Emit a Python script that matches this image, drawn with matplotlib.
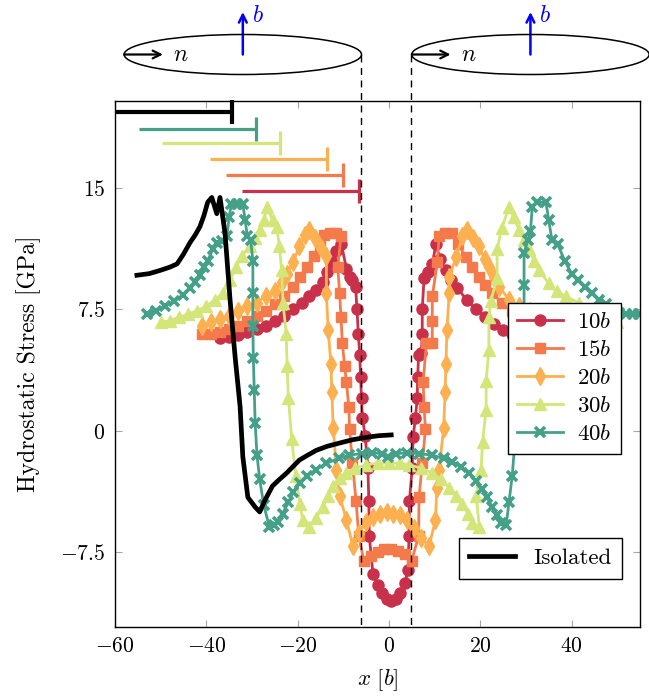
import matplotlib
matplotlib.use("Agg")
import matplotlib.pyplot as plt
from matplotlib.patches import Ellipse
from matplotlib.lines import Line2D
import matplotlib.transforms as mtransforms

plt.rcParams['mathtext.fontset'] = 'cm'
plt.rcParams['font.family'] = ['cmr10', 'DejaVu Serif']
plt.rcParams['axes.formatter.use_mathtext'] = True

# ---------------- data ----------------
labels = ['$10b$', '$15b$', '$20b$', '$30b$', '$40b$']
colors = ['#c9304a', '#f47a4b', '#fdb04f', '#d4e57a', '#45a08a']
markers = ['o', 's', 'd', '^', 'x']

x10 = [-37, -35, -33, -31, -29, -27, -25, -23, -21, -19, -17.5, -16, -14.5, -13.5, -12.5,
       -11.5, -10.4, -9.3, -8.6, -8.0, -7.3, -7.0, -6.7, -6.4, -6.2, -6.0, -5.8, -5.2, -4.6,
       -4.4, -4.3, -3.5, -2.5, -1.5, -0.5, 0.5, 1.5, 2.5, 3.5, 4.2, 4.4, 4.5, 5.1, 5.3, 5.8,
       6.2, 6.3, 6.5, 7.1, 7.3, 7.3, 7.7, 8.5, 9.5, 10.3, 11.2, 12.5, 13.5, 15, 17, 19, 21,
       23, 25, 27, 29, 31, 33, 35]
y10 = [5.7, 5.8, 5.9, 6.1, 6.3, 6.5, 6.8, 7.1, 7.5, 7.9, 8.3, 8.7, 9.2, 9.8, 10.4,
       11.1, 11.5, 10.0, 9.5, 9.3, 8.9, 7.5, 6.0, 4.7, 3.3, 2.0, 0.8, -0.3, -2.3,
       -4.3, -6.5, -8.8, -9.5, -10.0, -10.4, -10.5, -10.4, -10.0, -9.4, -8.6, -6.5, -4.3, -2.3, -0.4, 0.8,
       2.0, 3.3, 4.7, 4.8, 6.0, 7.5, 9.4, 9.8, 10.3, 11.5, 10.6, 9.9, 9.3, 8.8, 8.1, 7.5, 7.0,
       6.6, 6.2, 6.0, 5.9, 5.8, 5.7, 5.7]

x15 = [-41, -39, -37, -35, -33, -31, -29, -27, -25, -23, -21, -19.5, -18, -16.5, -15.2,
       -14.3, -13, -11.5, -10.5, -11.2, -10.8, -10.5, -10.2, -9.7, -9.3, -8.8, -8.6, -8.0,
       -7.2, -6.6, -5.5, -4, -2.5, -1, 0.5, 2, 3.5, 5.0, 6.5, 6.6, 7.3, 8.0, 7.7, 7.5, 8.2,
       9.5, 9.5, 9.5, 10.6, 11, 12.2, 13.9, 15.2, 16.9, 18.3, 19.7, 21.1, 22.6, 24.8, 27,
       29, 31, 33, 35, 37, 39]
y15 = [6.0, 6.0, 6.1, 6.3, 6.5, 6.8, 7.1, 7.4, 7.8, 8.3, 8.9, 9.5, 10.1, 10.8, 11.5,
       12.1, 12.2, 12.2, 12.0, 10.1, 8.5, 7.0, 5.4, 4.0, 3.0, 1.5, 0.1, -2.0,
       -4.3, -6.5, -8.0, -7.7, -7.5, -7.3, -7.3, -7.4, -7.6, -8.0, -6.5, -4.1, -2.0, 0.1, 1.5, 3.0, 5.4,
       5.4, 6.8, 8.3, 10.4, 12.0, 12.2, 12.2, 11.5, 10.7, 10.1, 9.5, 9.0, 8.5, 7.9, 7.4,
       7.0, 6.7, 6.4, 6.2, 6.1, 6.0]

x20 = [-41, -39, -37, -35, -33, -31, -29, -27, -25, -23.5, -22.4, -21, -19.6, -18.3, -17.4,
       -16.2, -14.8, -13.7, -13.7, -13.3, -12.7, -12.5, -12.2, -11.5, -10.8, -9.3, -7.9,
       -6.5, -5, -3.5, -2, -0.5, 1, 2.5, 4, 5.5, 7, 8.8, 10.2, 10.5, 11.0, 12.0, 12.3, 12.5,
       12.7, 13.2, 13.2, 14.7, 16.1, 17.2, 18.5, 19.7, 21, 21.9, 23, 24.1, 26.3, 28.5, 31,
       33, 35, 37, 39, 41]
y20 = [6.5, 6.7, 6.9, 7.1, 7.4, 7.7, 7.9, 8.3, 8.6, 9.2, 9.7, 10.4, 11.4, 12.1, 12.4,
       11.9, 11.3, 10.8, 8.5, 6.2, 4.1, 2.4, 0.2, -2.4, -4.0, -5.5, -7.1,
       -6.3, -5.6, -5.3, -5.1, -5.0, -5.1, -5.2, -5.5, -6.0, -6.6, -7.1, -5.5, -3.5, -2.4, 0.2, 2.4, 4.1,
       6.2, 8.5, 9.5, 10.7, 12.0, 12.4, 11.9, 11.4, 10.6, 10.1, 9.5, 8.9, 8.1, 7.7, 7.4,
       7.1, 6.9, 6.7, 6.5, 6.4]

x30 = [-50, -48, -46, -44, -42, -40, -38, -36.3, -34.8, -33.5, -32.2, -30.5, -29.3, -28.3,
       -27.4, -26.6, -25.5, -24.6, -24.0, -23.5, -23.2, -22.5, -22.3, -22.0, -21.3, -20.4,
       -19.5, -18.9, -17.4, -16, -14.5, -13.3, -12.3, -10.8, -9.3, -7.5, -5, -2.5, 0, 2.5,
       4.5, 7, 9.5, 11.5, 13.2, 14.7, 16.1, 17.3, 18.3, 19.8, 19.1, 20.2, 20.5, 21.3, 21.3,
       21.9, 21.9, 22.3, 23.7, 23.7, 24.7, 26.3, 27.3, 28.5, 29.6, 30.7, 31.8, 32.9, 35,
       36.8, 38.7, 41.6, 44, 46, 48, 50]
y30 = [6.7, 6.8, 7.0, 7.2, 7.4, 7.7, 8.1, 8.5, 9.3, 10.1, 10.8, 11.4, 11.9, 12.4,
       13.0, 13.8, 13.0, 12.6, 11.4, 9.9, 7.9, 6.0, 4.0, 2.0, -0.5, -2.8,
       -4.5, -5.5, -5.9, -5.4, -4.7, -4.0, -3.4, -2.9, -2.6, -2.3, -2.1, -2.0, -2.0, -2.0,
       -2.1, -2.3, -2.6, -3.0, -3.5, -4.0, -4.5, -5.1, -5.7, -5.9, -4.0, -2.4, -0.7, 1.3, 3.1,
       5.0, 7.0, 8.0, 9.4, 11.2, 12.5, 13.8, 13.2, 12.4, 11.8, 11.2, 10.5, 9.9, 9.1,
       8.6, 8.3, 7.9, 7.4, 7.1, 6.9, 6.7]

x40 = [-53, -51, -49, -47, -45, -43.6, -42.4, -41.4, -40.5, -39.7, -38.6, -37.7, -36.5,
       -35.5, -35, -34.5, -33.3, -32, -31.5, -31.0, -30.3, -29.8, -29.8, -29.8, -29.7, -29.5,
       -29.3, -28.9, -28.3, -27.4, -26.2, -25.2, -24.3, -23.3, -22, -21, -19.5, -18, -16,
       -13.7, -11, -8.7, -6, -3.6, -1.5, -0.3, 1.5, 4, 6.5, 9.5, 12, 13.8, 15.8, 17.5, 19,
       20.4, 21.5, 22.6, 23.6, 24.6, 25.7, 26.3, 27.0, 27.5, 28.0, 28.5, 29.2, 29.6, 29.6,
       29.6, 30.5, 31.0, 31.4, 32.5, 34.4, 35.0, 35.7, 37, 38.5, 40, 41.5, 43, 44.5, 46,
       47.5, 48.8, 50.5, 52, 53.5, 54.7]
y40 = [7.2, 7.4, 7.7, 8.0, 8.4, 8.8, 9.2, 9.6, 10.1, 10.5, 11.2, 11.6, 11.7,
       12.0, 13.2, 14.0, 14.0, 14.0, 13.0, 12.0, 11.8, 10.5, 8.5, 6.5, 4.5, 2.5,
       0.5, -1.5, -3.0, -4.6, -5.9, -5.8, -5.6, -5.1, -4.4, -3.8, -3.2, -2.8, -2.4,
       -2.0, -1.7, -1.5, -1.4, -1.36, -1.4, -1.6, -1.4, -1.36, -1.4, -1.5, -1.7, -1.9, -2.2, -2.6, -3.1,
       -3.6, -4.1, -4.7, -5.2, -5.7, -5.8, -4.4, -2.8, -1.0, 1.0, 3.0, 5.0, 7.0, 9.0,
       11.0, 11.8, 12.3, 13.8, 14.1, 14.1, 13.0, 11.8, 11.5, 10.5, 9.7, 9.3, 8.9, 8.5, 8.1,
       7.8, 7.5, 7.3, 7.2, 7.2, 7.2]

x_iso = [-55.2, -52.5, -50.1, -48, -46.4, -45, -43.6, -42.4, -41.4, -40.5, -39.7, -38.8,
         -37.7, -37.0, -35.9, -34.8, -33.7, -32.6, -32.0, -30.9, -30.5, -29.3, -28.3,
         -27.2, -25.5, -24, -22.4, -21, -19.6, -17.8, -15.9, -13.5, -10.8, -8, -5, -2.3, 0.5]
y_iso = [9.6, 9.7, 9.9, 10.1, 10.3, 10.9, 11.6, 12.1, 12.6, 13.3, 14.1, 14.4,
         13.4, 14.4, 12.2, 8.1, 4.6, 1.5, -1.6, -4.1, -4.25, -4.7, -5.0,
         -4.3, -3.4, -3.0, -2.6, -2.2, -1.8, -1.5, -1.2, -0.95, -0.75, -0.55, -0.4, -0.3, -0.25]

# loop extent bars (top-left), order: isolated, 40b, 30b, 20b, 15b, 10b
bar_colors = ['black', '#45a08a', '#d4e57a', '#fdb04f', '#f47a4b', '#c9304a']
bar_start = [-60, -54.7, -49.6, -39.2, -35.7, -32.2]
bar_end = [-34.3, -29.2, -23.9, -13.6, -10.1, -6.6]
bar_y = [19.7, 18.6, 17.75, 16.8, 15.8, 14.8]

loop_edges = [-6.1, 4.9]
ellipse_centers = [-32, 31]
ellipse_width = 52

xticks = [-60, -40, -20, 0, 20, 40]
yticks = [-7.5, 0, 7.5, 15]

# ---------------- figure ----------------
W, H = 649, 698
fig = plt.figure(figsize=(W / 100, H / 100), dpi=100)
ax = fig.add_axes([115 / W, 1 - 627 / H, 525 / W, 526 / H])
ax.set_xlim(-60, 55)
ax.set_ylim(-12.1, 20.35)

series = [(x10, y10), (x15, y15), (x20, y20), (x30, y30), (x40, y40)]
msizes = [8, 7.5, 9, 8.5, 6.5]
handles = []
for (xs, ys), c, m, lab, ms in zip(series, colors, markers, labels, msizes):
    if m == 'x':
        ln, = ax.plot(xs, ys, color=c, lw=2.0, marker=m, ms=ms, mew=2.6, label=lab)
    else:
        ln, = ax.plot(xs, ys, color=c, lw=2.0, marker=m, ms=ms, mec=c, mfc=c, label=lab)
    handles.append(ln)

iso, = ax.plot(x_iso, y_iso, color='black', lw=3.4, label='Isolated', solid_joinstyle='round')

# loop bars
for c, xs, xe, yb in zip(bar_colors, bar_start, bar_end, bar_y):
    lw = 3.0 if c == 'black' else 2.3
    ax.plot([xs, xe], [yb, yb], color=c, lw=lw, solid_capstyle='butt', clip_on=False)
    ax.plot([xe, xe], [yb - 0.74, yb + 0.74], color=c, lw=lw, solid_capstyle='butt', clip_on=False)

# ticks
ax.set_xticks(xticks)
ax.set_xticklabels([r'$%g$' % v if v >= 0 else r'$-%g$' % (-v) for v in xticks])
ax.set_yticks(yticks)
ax.set_yticklabels([r'$%g$' % v if v >= 0 else r'$-%g$' % (-v) for v in yticks])
ax.tick_params(direction='in', length=5, width=0.8, color='0.65', top=True, right=True,
               labelsize=15.5, pad=7)
for s in ax.spines.values():
    s.set_linewidth(1.0)

ax.set_xlabel(r'$x\ [b]$', fontsize=16.5, labelpad=8)
ax.set_ylabel('Hydrostatic Stress [GPa]', fontsize=17, labelpad=14)

# legends
leg1 = ax.legend(handles=handles, loc='upper left', bbox_to_anchor=(0.749, 0.616),
                 borderaxespad=0, fontsize=16.5, fancybox=False, framealpha=1,
                 edgecolor='black', handlelength=2.0, labelspacing=0.35,
                 handletextpad=0.6, borderpad=0.4)
leg1.get_frame().set_linewidth(1.0)
ax.add_artist(leg1)
leg2 = ax.legend(handles=[iso], loc='upper left', bbox_to_anchor=(0.655, 0.169),
                 borderaxespad=0, fontsize=16.5, fancybox=False, framealpha=1,
                 edgecolor='black', handlelength=2.0, handletextpad=0.8, borderpad=0.45)
leg2.get_frame().set_linewidth(1.0)

# dislocation loop schematic above axes
trans = mtransforms.blended_transform_factory(ax.transData, fig.transFigure)
yc = 1 - 54.5 / H
eh = 40 / H
for cx in ellipse_centers:
    e = Ellipse((cx, yc), ellipse_width, eh, transform=trans, fill=False,
                edgecolor='black', lw=1.1, clip_on=False)
    fig.add_artist(e)
    left_tip = cx - ellipse_width / 2
    ax.annotate('', xy=(left_tip + 8.5, yc), xytext=(left_tip, yc), xycoords=trans,
                textcoords=trans, annotation_clip=False,
                arrowprops=dict(arrowstyle='->', lw=1.6, color='black',
                                shrinkA=0, shrinkB=0, mutation_scale=14))
    ax.text(left_tip + 12.4, yc, r'$n$', transform=trans, fontsize=17, ha='center',
            va='center')
    ax.annotate('', xy=(cx, 1 - 12 / H), xytext=(cx, yc), xycoords=trans,
                textcoords=trans, annotation_clip=False,
                arrowprops=dict(arrowstyle='->', lw=1.8, color='blue',
                                shrinkA=0, shrinkB=0, mutation_scale=14))
    ax.text(cx + 3.2, 1 - 16 / H, r'$b$', transform=trans, fontsize=17, ha='center',
            va='center', color='blue')

ybot = 1 - 627 / H
for xe in loop_edges:
    ln = Line2D([xe, xe], [yc, ybot], transform=trans, color='black', lw=1.0,
                ls=(0, (5, 4)), clip_on=False)
    fig.add_artist(ln)

fig.savefig('out.png', dpi=100)
